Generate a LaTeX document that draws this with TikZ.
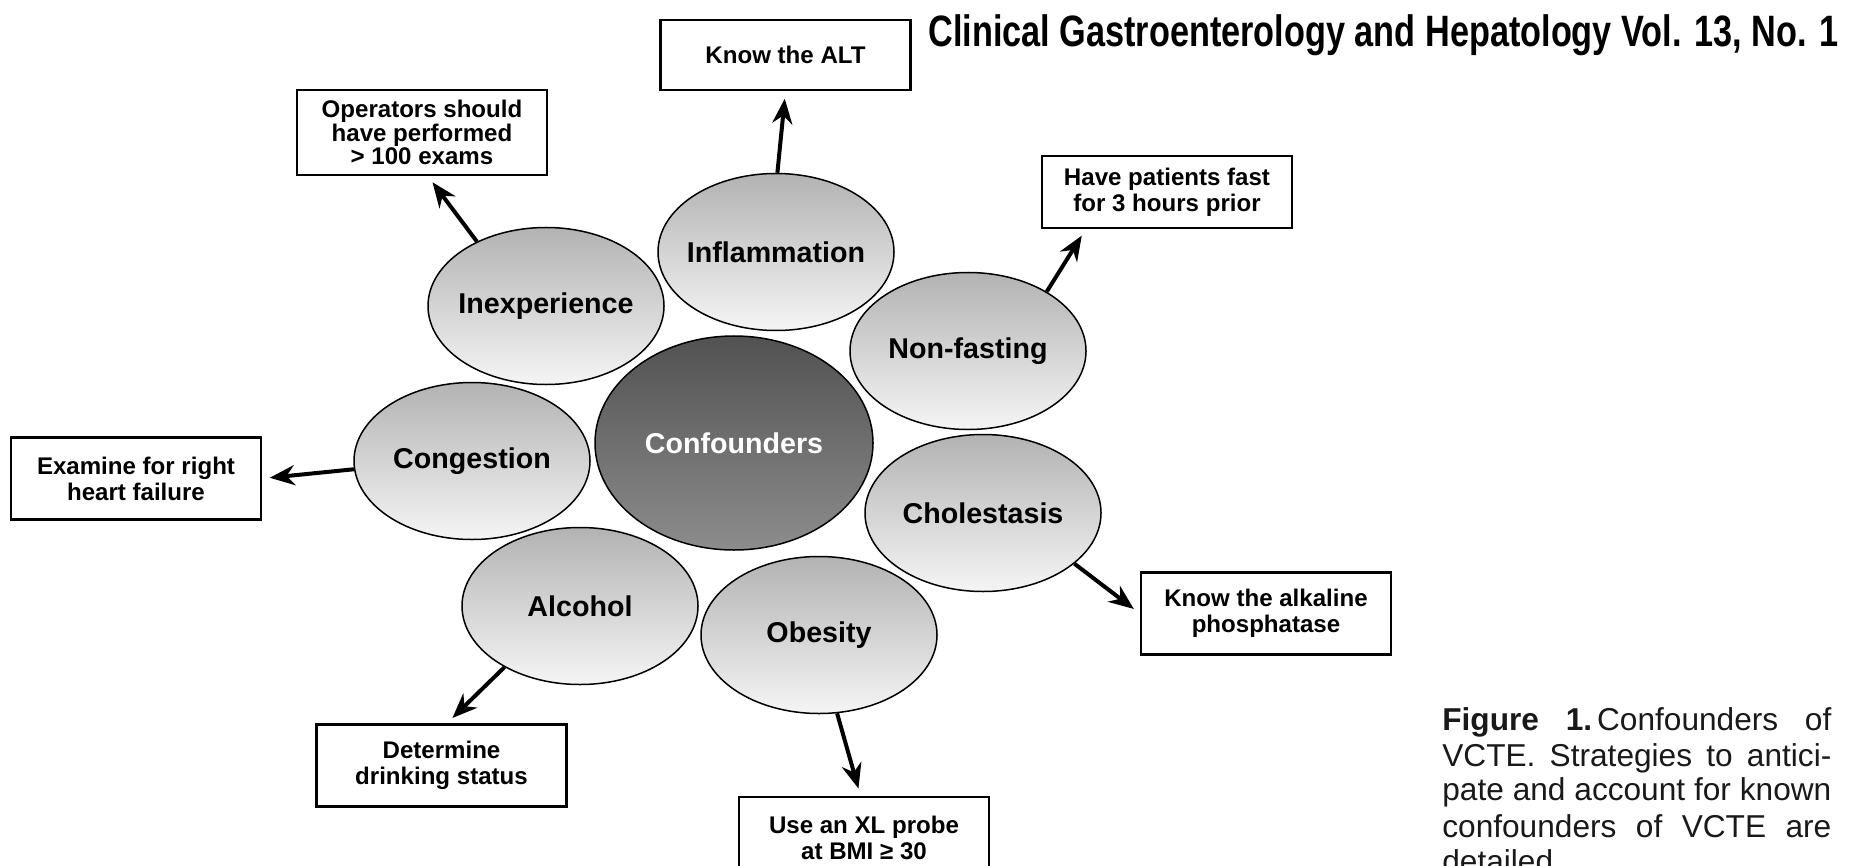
\documentclass[tikz,border=0pt]{standalone}
\usepackage{fontspec}
\setmainfont{Liberation Sans}
\newfontfamily\headfont[FakeStretch=0.78]{Liberation Sans}
\usetikzlibrary{shapes.geometric, arrows.meta, positioning}
\newcommand{\blobfont}{\fontsize{16.3}{19}\selectfont\bfseries}
\newcommand{\tipfont}{\fontsize{13.7}{14.8}\selectfont\bfseries}
\newcommand{\capfont}{\fontsize{18}{20}\selectfont}

\begin{document}
\begin{tikzpicture}[x=0.2mm, y=-0.2mm,
        blob/.style={ellipse, draw, line width=0.3mm, top color=black!30, bottom color=black!4,
            minimum width=47.2mm, minimum height=31.4mm, inner xsep=-2mm, inner ysep=0pt, font=\blobfont},
        core/.style={blob, top color=black!68, bottom color=black!45, minimum width=55.6mm,
            minimum height=42.8mm, text=white},
        advice/.style={rectangle, draw, line width=0.5mm, fill=white, minimum width=50mm,
            minimum height=16.4mm, align=center, inner sep=1mm, font=\tipfont},
        arr/.style={-{Stealth[length=5mm, width=4mm]}, line width=0.8mm, shorten >=1.5mm},
        capline/.style={anchor=base west, inner sep=0pt, font=\capfont, text=black!90}]
    \useasboundingbox (0,0) rectangle (1856,866);
    \clip (0,0) rectangle (1856,866);
    \node[core] (conf) at (734,443) {Confounders};
    \node[blob] (infl) at (776,252) {Inflammation};
    \node[blob] (inexp) at (546,306) {Inexperience};
    \node[blob] (nonf) at (968,351) {Non-fasting};
    \node[blob] (cong) at (472,461) {Congestion};
    \node[blob] (chol) at (983,513) {Cholestasis};
    \node[blob] (alc) at (580,606) {Alcohol};
    \node[blob] (obes) at (819,635) {Obesity};
    \node[advice, minimum height=14mm] (alt) at (785.5,55) {Know the ALT};
    \node[advice, minimum height=17mm, font=\tipfont\linespread{0.9}\selectfont] (oper) at (422,132.5)
        {Operators should\\have performed\\> 100 exams};
    \node[advice, minimum height=14.4mm] (have) at (1167,192) {Have patients fast\\for 3 hours prior};
    \node[advice] (exam) at (136,478.5) {Examine for right\\heart failure};
    \node[advice] (alk) at (1266,613.5) {Know the alkaline\\phosphatase};
    \node[advice] (det) at (441.5,765.5) {Determine\\drinking status};
    \node[advice] (xl) at (864,838) {Use an XL probe\\at BMI ≥ 30};
    \draw[arr] (infl.89) -- (alt.south);
    \draw[arr] (inexp.137) -- ([xshift=1.2mm]oper.south);
    \draw[arr] (nonf.37) -- ([xshift=9mm]have.south west);
    \draw[arr] (cong.184) -- (exam.east);
    \draw[arr] (chol.331) -- (alk.west);
    \draw[arr] (alc.219) -- ([xshift=1.1mm]det.north);
    \draw[arr] (obes.283) -- ([xshift=-0.7mm]xl.north);
    \node[anchor=base west, inner sep=0pt, font=\headfont\bfseries\fontsize{25}{26}\selectfont] (head) at (928,47)
        {Clinical Gastroenterology and Hepatology Vol. 13, No. 1};
    \foreach \yy/\txt [count=\i] in {730/{\textbf{Figure}\hfill\textbf{1.}\hspace{1mm}Confounders\hfill of},
            766/{VCTE. Strategies to antici-}, 800/{pate and account for known},
            837/{confounders of VCTE are}}
        \node[capline] (cap\i) at (1442,\yy) {\makebox[77.8mm][s]{\txt}};
    \node[capline] (cap5) at (1442,872) {detailed.};
\end{tikzpicture}
\end{document}
